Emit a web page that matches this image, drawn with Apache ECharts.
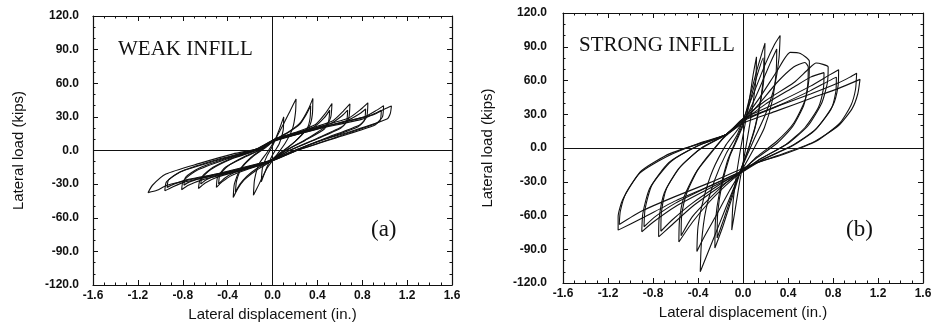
<!DOCTYPE html>
<html><head><meta charset="utf-8">
<script src="https://cdn.jsdelivr.net/npm/echarts@6/dist/echarts.min.js"></script>
<style>html,body{margin:0;padding:0;background:#fff}#c{width:931px;height:322px}</style>
</head><body><div id="c"></div>
<script>
// ---- axis ticks ----
const xTicks = [-1.6, -1.2, -0.8, -0.4, 0.0, 0.4, 0.8, 1.2, 1.6];
const yTicks = [-120, -90, -60, -30, 0, 30, 60, 90, 120];
const xTitle = 'Lateral displacement (in.)';
const yTitle = 'Lateral load (kips)';
const panelTitles = ['WEAK INFILL', 'STRONG INFILL'];
const panelTags = ['(a)', '(b)'];

// ---- (a) weak infill: hysteresis cycles [displacement in., load kips] ----
const weakCycle0 = [[-0.1,-28],[-0.09,-16],[-0.05,-5],[0.0,4],[0.05,16],[0.1,30],[0.095,18],[0.06,6],[0.0,-4],[-0.05,-15],[-0.1,-28]];
const weakCycle1 = [[-0.17,-40],[-0.16,-26],[-0.12,-12],[-0.05,-2],[0.02,9],[0.09,22],[0.16,36],[0.21,46],[0.205,34],[0.18,20],[0.11,6],[0.03,-5],[-0.05,-16],[-0.12,-30],[-0.17,-40]];
const weakCycle2 = [[-0.35,-42],[-0.34,-30],[-0.29,-17],[-0.19,-6],[-0.08,2],[0.02,10],[0.15,17],[0.25,25],[0.32,37],[0.36,46.5],[0.355,32],[0.33,22],[0.2,8],[0.08,-2],[-0.02,-10],[-0.15,-18],[-0.25,-26],[-0.31,-34],[-0.35,-42]];
const weakCycle2b = [[-0.33,-37],[-0.32,-27],[-0.27,-15],[-0.17,-5],[-0.07,2],[0.02,9],[0.14,16],[0.24,23],[0.3,32],[0.34,40],[0.335,29],[0.31,20],[0.19,7],[0.07,-2],[-0.02,-9],[-0.14,-16],[-0.23,-23],[-0.29,-30],[-0.33,-37]];
const weakCycle3 = [[-0.50,-33],[-0.49,-24],[-0.42,-15],[-0.25,-6],[-0.1,1],[0.02,10],[0.2,16],[0.38,23],[0.47,33],[0.53,42],[0.52,30],[0.48,22],[0.3,10],[0.12,0],[-0.02,-10],[-0.2,-16],[-0.36,-22],[-0.45,-28],[-0.50,-33]];
const weakCycle3b = [[-0.48,-30],[-0.47,-22],[-0.4,-14],[-0.24,-5],[-0.1,1],[0.02,9],[0.2,15],[0.37,21],[0.46,29],[0.51,36],[0.5,26],[0.46,19],[0.29,9],[0.12,0],[-0.02,-9],[-0.2,-15],[-0.35,-20],[-0.43,-25],[-0.48,-30]];
const weakCycle4 = [[-0.66,-34],[-0.645,-26],[-0.55,-17],[-0.35,-7],[-0.12,1],[0.02,10],[0.25,17],[0.53,26],[0.63,35],[0.69,41.5],[0.68,29],[0.63,22],[0.4,11],[0.15,0],[-0.02,-10],[-0.25,-17],[-0.5,-24],[-0.6,-29],[-0.66,-34]];
const weakCycle4b = [[-0.64,-30],[-0.625,-23],[-0.53,-15],[-0.34,-6],[-0.12,1],[0.02,9],[0.25,16],[0.52,24],[0.62,31],[0.67,36],[0.66,26],[0.61,20],[0.39,10],[0.15,0],[-0.02,-9],[-0.25,-16],[-0.49,-22],[-0.59,-26],[-0.64,-30]];
const weakCycle5 = [[-0.81,-35],[-0.795,-27],[-0.68,-18],[-0.42,-8],[-0.14,1],[0.02,10],[0.3,18],[0.68,29],[0.79,37],[0.85,42.5],[0.84,30],[0.78,23],[0.5,12],[0.17,-1],[-0.02,-10],[-0.3,-18],[-0.62,-26],[-0.75,-31],[-0.81,-35]];
const weakCycle5b = [[-0.79,-31],[-0.775,-24],[-0.66,-16],[-0.41,-7],[-0.14,1],[0.02,9],[0.3,17],[0.67,27],[0.78,33],[0.83,37],[0.82,27],[0.76,21],[0.49,11],[0.17,-1],[-0.02,-9],[-0.3,-17],[-0.61,-24],[-0.74,-28],[-0.79,-31]];
const weakCycle6 = [[-0.96,-36],[-0.945,-28],[-0.82,-19],[-0.5,-9],[-0.15,1],[0.02,10],[0.4,20],[0.82,30],[0.93,36],[0.99,40],[0.98,30],[0.92,24],[0.6,13],[0.19,-1],[-0.02,-10],[-0.4,-20],[-0.78,-28],[-0.9,-33],[-0.96,-36]];
const weakCycle6b = [[-0.94,-33],[-0.925,-26],[-0.8,-18],[-0.49,-8],[-0.15,1],[0.02,9],[0.4,19],[0.8,28],[0.91,33],[0.97,36],[0.96,27],[0.9,22],[0.59,12],[0.19,-1],[-0.02,-9],[-0.4,-19],[-0.76,-26],[-0.88,-30],[-0.94,-33]];
const weakCycle7 = [[-1.11,-37.6],[-1.07,-31],[-0.95,-21],[-0.65,-11.5],[-0.35,-3],[-0.11,2],[0.01,8],[0.1,11],[0.5,22],[0.9,32],[1.0,37],[1.06,39.7],[1.05,33],[1.02,28],[0.7,17],[0.4,8],[0.19,-1],[0.0,-9],[-0.14,-12],[-0.5,-21],[-0.94,-31],[-1.03,-35.5],[-1.11,-37.6]];

// ---- (b) strong infill: hysteresis cycles ----
const strongCycle1 = [[-0.10,-73],[-0.09,-50],[-0.06,-25],[-0.02,0],[0.02,22],[0.06,45],[0.09,65],[0.12,81],[0.115,62],[0.09,40],[0.05,15],[0.01,-8],[-0.03,-30],[-0.07,-55],[-0.10,-73]];
const strongCycle2 = [[-0.25,-89],[-0.245,-65],[-0.21,-40],[-0.14,-12],[-0.07,5],[0.0,22],[0.06,45],[0.12,68],[0.17,85],[0.195,93],[0.19,72],[0.16,45],[0.11,20],[0.05,0],[-0.02,-20],[-0.1,-45],[-0.18,-70],[-0.25,-89]];
const strongCycle2b = [[-0.23,-80],[-0.225,-58],[-0.19,-34],[-0.12,-8],[-0.05,8],[0.02,25],[0.08,48],[0.13,66],[0.18,80],[0.185,62],[0.15,38],[0.1,15],[0.04,-3],[-0.03,-22],[-0.1,-42],[-0.17,-63],[-0.23,-80]];
const strongCycle3 = [[-0.38,-110],[-0.37,-85],[-0.33,-55],[-0.25,-28],[-0.15,-5],[-0.05,12],[0.0,25],[0.1,50],[0.2,75],[0.28,92],[0.33,100],[0.32,80],[0.28,55],[0.2,30],[0.1,8],[0.0,-15],[-0.1,-40],[-0.2,-65],[-0.3,-90],[-0.38,-110]];
const strongCycle3b = [[-0.41,-92],[-0.40,-70],[-0.35,-45],[-0.27,-20],[-0.15,3],[-0.05,16],[0.05,32],[0.15,54],[0.24,75],[0.30,88],[0.295,68],[0.26,42],[0.19,18],[0.1,0],[0.0,-18],[-0.12,-38],[-0.25,-62],[-0.35,-80],[-0.41,-92]];
const strongCycle4 = [[-0.57,-83.5],[-0.565,-65],[-0.53,-45],[-0.42,-22],[-0.28,-4],[-0.15,12],[0.0,25],[0.15,45],[0.3,68],[0.42,85],[0.51,84],[0.59,77],[0.585,60],[0.55,42],[0.45,22],[0.3,6],[0.12,-8],[0.0,-20],[-0.15,-33],[-0.3,-48],[-0.45,-66],[-0.57,-83.5]];
const strongCycle4b = [[-0.55,-78],[-0.545,-60],[-0.5,-40],[-0.4,-19],[-0.27,-2],[-0.15,11],[0.0,23],[0.15,40],[0.3,58],[0.45,72],[0.55,76],[0.58,72],[0.575,56],[0.54,38],[0.44,19],[0.3,4],[0.12,-9],[0.0,-19],[-0.15,-31],[-0.3,-45],[-0.45,-61],[-0.55,-78]];
const strongCycle5 = [[-0.75,-79],[-0.745,-62],[-0.7,-40],[-0.57,-18],[-0.38,-1],[-0.15,12],[0.0,26],[0.2,42],[0.45,58],[0.58,70],[0.65,75.5],[0.757,72],[0.75,58],[0.7,40],[0.58,20],[0.4,4],[0.15,-10],[0.0,-21],[-0.2,-34],[-0.45,-52],[-0.65,-70],[-0.75,-79]];
const strongCycle5b = [[-0.73,-74],[-0.725,-57],[-0.68,-36],[-0.55,-16],[-0.37,0],[-0.15,12],[0.0,24],[0.2,39],[0.45,54],[0.6,63],[0.72,67],[0.715,53],[0.67,36],[0.55,18],[0.38,3],[0.15,-10],[0.0,-20],[-0.2,-32],[-0.45,-49],[-0.63,-64],[-0.73,-74]];
const strongCycle6 = [[-0.90,-74.5],[-0.89,-58],[-0.83,-36],[-0.66,-13],[-0.4,2],[-0.15,12],[0.0,26],[0.3,40],[0.6,55],[0.77,65],[0.85,69.5],[0.845,55],[0.8,38],[0.65,17],[0.45,3],[0.18,-10],[0.0,-21],[-0.3,-36],[-0.6,-52],[-0.8,-66],[-0.90,-74.5]];
const strongCycle6b = [[-0.88,-70],[-0.87,-54],[-0.81,-33],[-0.64,-12],[-0.4,2],[-0.15,12],[0.0,24],[0.3,37],[0.6,51],[0.75,59],[0.83,63],[0.825,50],[0.78,34],[0.63,15],[0.44,2],[0.18,-10],[0.0,-20],[-0.3,-34],[-0.6,-49],[-0.78,-61],[-0.88,-70]];
const strongCycle7 = [[-1.11,-73],[-1.11,-61],[-1.07,-46],[-0.92,-22.5],[-0.68,-7.7],[-0.39,4.2],[-0.15,12],[0.0,25],[0.3,37],[0.6,48],[0.85,58],[0.95,63],[1.01,66.5],[1.0,52],[0.96,38],[0.86,22],[0.65,6],[0.35,-6],[0.1,-14],[0.0,-20],[-0.3,-34],[-0.6,-47],[-0.89,-62],[-1.11,-73]];
const strongCycle8 = [[-1.10,-68],[-1.09,-56],[-1.04,-40],[-0.9,-20],[-0.65,-5],[-0.35,5],[-0.15,12],[0.0,22],[0.3,33],[0.6,44],[0.85,53],[1.04,61],[1.02,48],[0.97,35],[0.85,20],[0.62,5],[0.3,-7],[0.05,-16],[-0.3,-31],[-0.6,-43],[-0.9,-56],[-1.10,-68]];

const weakCycles = [weakCycle0, weakCycle1, weakCycle2, weakCycle2b, weakCycle3, weakCycle3b, weakCycle4, weakCycle4b, weakCycle5, weakCycle5b, weakCycle6, weakCycle6b, weakCycle7];
const strongCycles = [strongCycle1, strongCycle2, strongCycle2b, strongCycle3, strongCycle3b, strongCycle4, strongCycle4b, strongCycle5, strongCycle5b, strongCycle6, strongCycle6b, strongCycle7, strongCycle8];

const chart = echarts.init(document.getElementById('c'), null, {renderer: 'canvas'});
const grids = [
  {left: 93, top: 16, width: 359, height: 269, containLabel: false, outerBoundsMode: 'none'},
  {left: 563, top: 13, width: 360, height: 270, containLabel: false, outerBoundsMode: 'none'}
];
const black = '#111';
const sans = '"Liberation Sans", Arial, sans-serif';
const tickCfg = {show: true, inside: true, length: 5, lineStyle: {color: black, width: 1}};
const lineCfg = {show: true, onZero: false, lineStyle: {color: black, width: 1.2}};
const labelFont = {fontFamily: sans, fontSize: 12, fontWeight: 'bold', color: black};
const nameFont = {fontFamily: sans, fontSize: 15, color: black};

const xAxes = [], yAxes = [];
grids.forEach((g, i) => {
  const xBase = {type: 'value', gridIndex: i, min: xTicks[0], max: xTicks[xTicks.length-1], interval: 0.4,
    axisLine: lineCfg, axisTick: tickCfg, minorTick: {show: true, splitNumber: 4, length: 2.5, lineStyle: {color: black}},
    splitLine: {show: false}};
  const yBase = {type: 'value', gridIndex: i, min: yTicks[0], max: yTicks[yTicks.length-1], interval: 30,
    axisLine: lineCfg, axisTick: tickCfg, minorTick: {show: true, splitNumber: 3, length: 2.5, lineStyle: {color: black}},
    splitLine: {show: false}};
  xAxes.push(Object.assign({}, xBase, {position: 'bottom',
    axisLabel: Object.assign({margin: 5, formatter: v => v.toFixed(1)}, labelFont),
    name: xTitle, nameLocation: 'middle', nameGap: 20, nameTextStyle: nameFont}));
  xAxes.push(Object.assign({}, xBase, {position: 'top', axisLabel: {show: false}}));
  yAxes.push(Object.assign({}, yBase, {position: 'left',
    axisLabel: Object.assign({margin: i === 0 ? 14 : 16, formatter: v => v.toFixed(1)}, labelFont),
    name: yTitle, nameLocation: 'middle', nameGap: i === 0 ? 67 : 68, nameTextStyle: nameFont}));
  yAxes.push(Object.assign({}, yBase, {position: 'right', axisLabel: {show: false}}));
});

const zeroLines = {silent: true, symbol: 'none', animation: false, label: {show: false},
  lineStyle: {color: black, width: 1, type: 'solid'}, emphasis: {disabled: true},
  data: [{xAxis: 0}, {yAxis: 0}]};

const series = [];
[weakCycles, strongCycles].forEach((cycles, i) => {
  cycles.forEach((c, k) => {
    const s = {type: 'line', xAxisIndex: 2*i, yAxisIndex: 2*i, data: c, symbol: 'none', showSymbol: false,
      smooth: 0.2, lineStyle: {color: black, width: 1.1}, animation: false, silent: true};
    if (k === 0) s.markLine = zeroLines;
    series.push(s);
  });
});

const serif = '"Liberation Serif", "DejaVu Serif", serif';
chart.setOption({
  animation: false,
  grid: grids,
  xAxis: xAxes,
  yAxis: yAxes,
  series: series,
  graphic: [
    {type: 'text', left: 118, top: 39, style: {text: panelTitles[0], font: '21px ' + serif, fill: black}},
    {type: 'text', left: 579, top: 35, style: {text: panelTitles[1], font: '21px ' + serif, fill: black}},
    {type: 'text', left: 371, top: 218, style: {text: panelTags[0], font: '23px ' + serif, fill: black}},
    {type: 'text', left: 846, top: 218, style: {text: panelTags[1], font: '23px ' + serif, fill: black}}
  ]
});
</script></body></html>
